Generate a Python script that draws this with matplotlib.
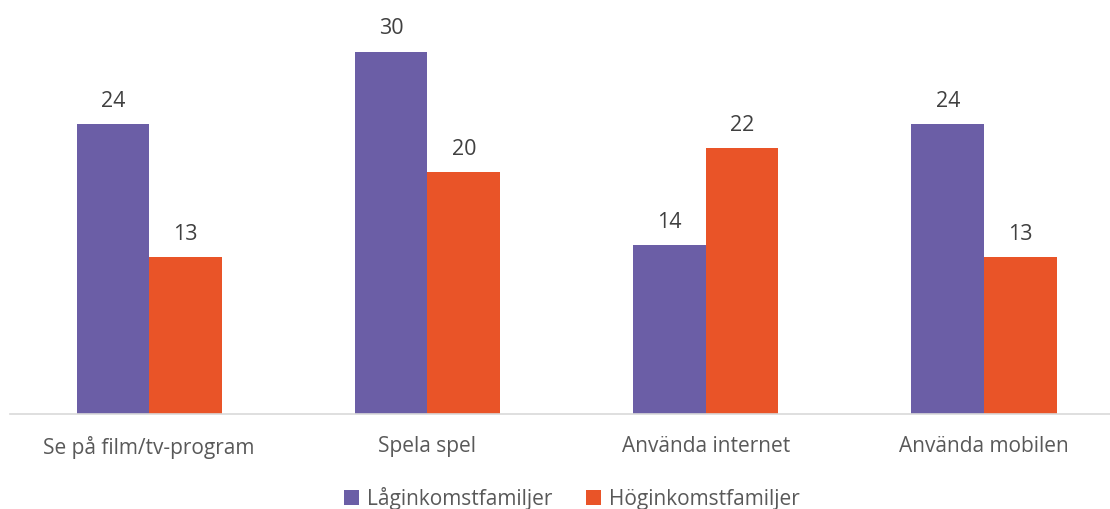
import matplotlib
matplotlib.use("Agg")
import matplotlib.pyplot as plt
from matplotlib.patches import Patch

categories = ["Se på film/tv-program", "Spela spel", "Använda internet", "Använda mobilen"]
series_names = ["Låginkomstfamiljer", "Höginkomstfamiljer"]
low_income = [24, 30, 14, 24]
high_income = [13, 20, 22, 13]
colors = ["#6B5EA6", "#E95428"]

plt.rcParams['font.family'] = ['Open Sans', 'DejaVu Sans']

W, H = 1110, 509
fig = plt.figure(figsize=(W / 100, H / 100), dpi=100)
base_y = 414
spacing = 278.3
left_px = 10
ax = fig.add_axes([left_px / W, (H - base_y) / H, (W - left_px) / W, base_y / H])

bw = 0.261
x = list(range(len(categories)))
for vals, off, col in [(low_income, -bw / 2, colors[0]), (high_income, bw / 2, colors[1])]:
    pos = [i + off for i in x]
    ax.bar(pos, vals, width=bw, color=col, edgecolor='none', zorder=2)
    for p, v in zip(pos, vals):
        ax.annotate(str(v), (p, v), xytext=(0, 12.5), textcoords='offset points',
                    ha='center', va='baseline', fontsize=15.5, color='#404040')

ax.set_xlim(-0.5, -0.5 + (W - left_px) / spacing)
ax.set_ylim(0, base_y / 12.08)
for s in ['top', 'right', 'left']:
    ax.spines[s].set_visible(False)
ax.spines['bottom'].set_color('#D9D9D9')
ax.spines['bottom'].set_linewidth(1.2)
ax.set_yticks([])
ax.set_xticks(x)
ax.set_xticklabels(categories, fontsize=15, color='#595959')
ax.tick_params(axis='x', length=0, pad=15.5)

handles = [Patch(facecolor=c, edgecolor='none') for c in colors]
fig.legend(handles, series_names, loc='center', bbox_to_anchor=(572 / W, 1 - 498 / H),
           ncol=2, frameon=False, fontsize=15, handlelength=0.7, handleheight=0.7,
           handletextpad=0.4, columnspacing=1.6, labelcolor='#595959')

fig.savefig("out.png", dpi=100)
